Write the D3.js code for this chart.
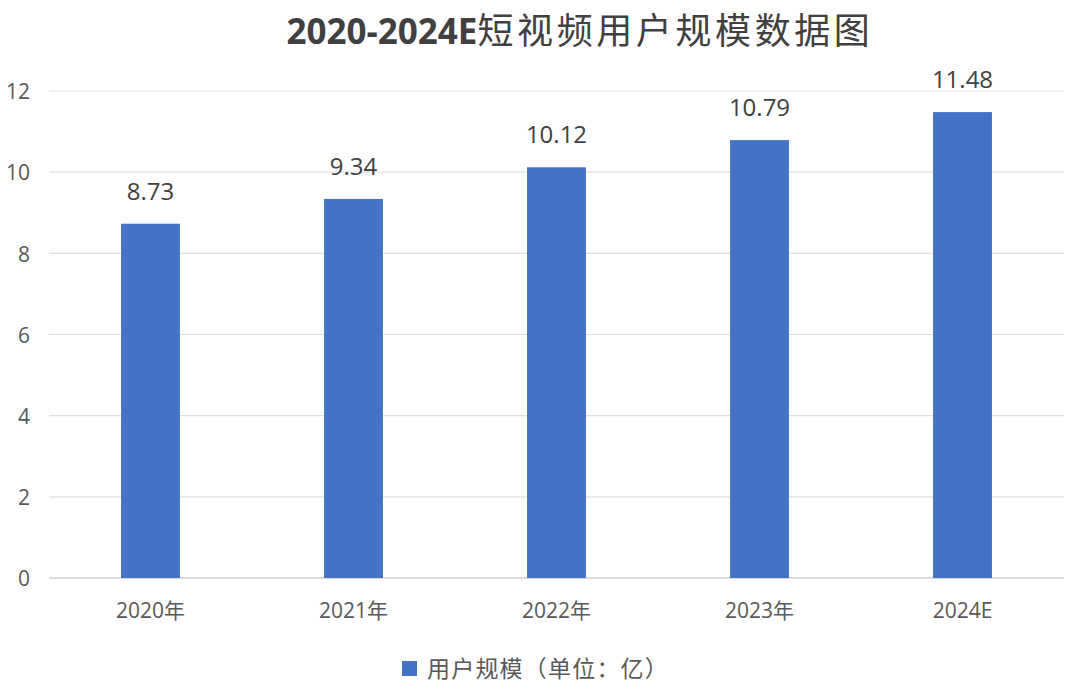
<!DOCTYPE html>
<html><head><meta charset="utf-8">
<script src="https://cdn.jsdelivr.net/npm/d3@7"></script>
<style>body{margin:0;background:#fff}svg{display:block}</style>
</head><body>
<svg id="c" width="1078" height="694"></svg>
<script>
const categories = ["2020年","2021年","2022年","2023年","2024E"];
const values = [8.73, 9.34, 10.12, 10.79, 11.48];
const yTicks = [0,2,4,6,8,10,12];
const seriesName = "用户规模（单位：亿）";
const titleLatin = "2020-2024E";
const titleCJK = "短视频用户规模数据图";

const svg = d3.select("#c");
const m = {left: 49, right: 1064, top: 91, bottom: 578};
const font = "'Open Sans', 'Noto Sans CJK SC', sans-serif";
const cjk = "'Noto Sans CJK SC', sans-serif";

const x = d3.scaleBand().domain(categories).range([m.left, m.right]).paddingInner(0.71).paddingOuter(0.355);
const y = d3.scaleLinear().domain([0,12]).range([m.bottom, m.top]);

// gridlines
svg.append("g").selectAll("line").data(yTicks).join("line")
  .attr("x1", m.left).attr("x2", m.right)
  .attr("y1", d=>y(d)).attr("y2", d=>y(d))
  .attr("stroke", d=> d===0 ? "#d0d0d0" : "#e0e0e0").attr("stroke-width", d=> d===0?1.5:1.2);

// y axis labels
const yAxis = d3.axisLeft(y).tickValues(yTicks).tickSize(0).tickPadding(0);
const ya = svg.append("g").attr("transform", `translate(30,0)`).call(yAxis);
ya.select(".domain").remove();
ya.selectAll("text").attr("font-family", font).attr("font-size", 21).attr("fill", "#595959").attr("dy","0.37em");

// x axis labels
const xAxis = d3.axisBottom(x).tickSize(0).tickPadding(0);
const xa = svg.append("g").attr("transform", `translate(0,${m.bottom})`).call(xAxis);
xa.select(".domain").remove();
xa.selectAll("text").attr("font-family", font).attr("font-size", 21).attr("fill", "#595959").attr("dy", null).attr("y", 40);

// bars
svg.append("g").selectAll("rect").data(values).join("rect")
  .attr("x", (d,i)=>x(categories[i])).attr("width", x.bandwidth())
  .attr("y", d=>y(d)).attr("height", d=>y(0)-y(d))
  .attr("fill", "#4472C4");

// data labels
svg.append("g").selectAll("text").data(values).join("text")
  .attr("x", (d,i)=>x(categories[i]) + x.bandwidth()/2)
  .attr("y", d=>y(d) - 24)
  .attr("text-anchor","middle")
  .attr("font-family", font).attr("font-size", 24).attr("fill", "#404040")
  .text(d=>d.toFixed(2));

// title
const t = svg.append("text").attr("x", 580).attr("y", 44).attr("text-anchor","middle")
  .attr("font-family", font).attr("font-size", 35).attr("fill", "#404040");
t.append("tspan").attr("font-weight","bold").text(titleLatin);
t.append("tspan").attr("font-weight","normal").attr("font-family", cjk).attr("font-size", 36).attr("letter-spacing", 3.6).text(titleCJK);

// legend
svg.append("rect").attr("x", 402).attr("y", 661).attr("width", 15).attr("height", 15).attr("fill", "#4472C4");
svg.append("text").attr("x", 427).attr("y", 677).attr("font-family", cjk).attr("font-size", 23).attr("letter-spacing", 1.2).attr("fill","#595959").text(seriesName);
</script>
</body></html>
